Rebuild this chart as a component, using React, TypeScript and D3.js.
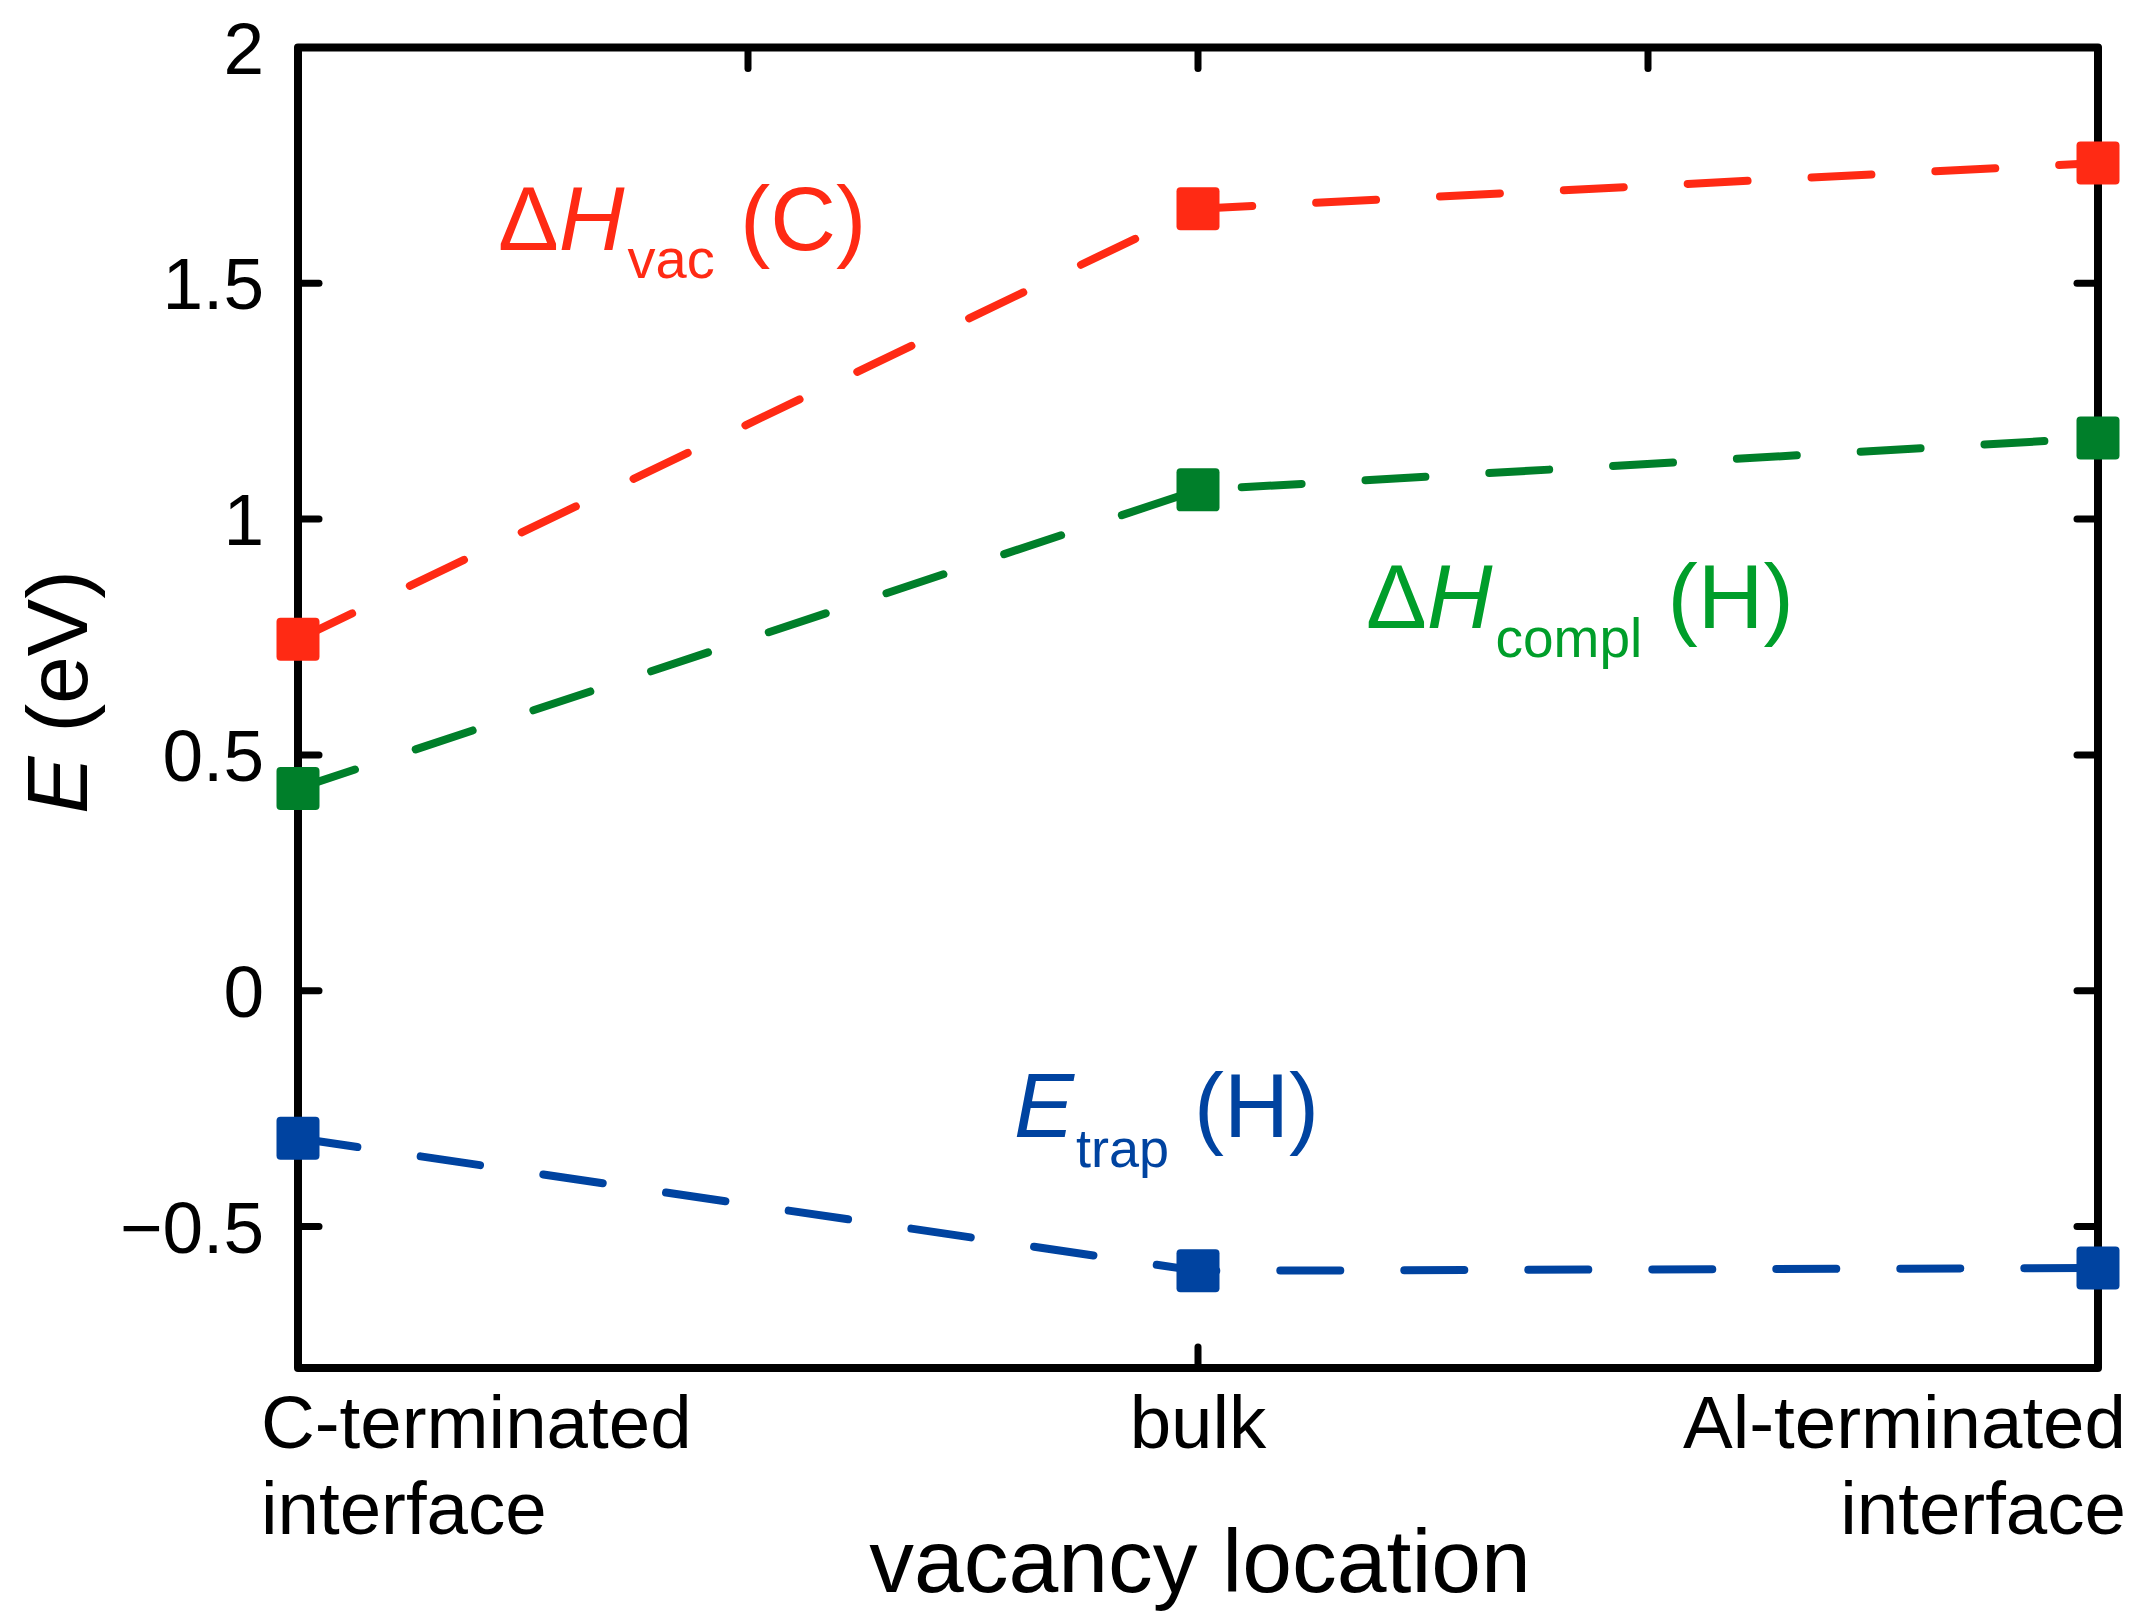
import React from "react";
import * as d3 from "d3";

const categories = ["C-terminated\ninterface", "bulk", "Al-terminated\ninterface"];
const catPos = [0, 1, 2];
const vacC = [0.745, 1.658, 1.755];
const complH = [0.429, 1.062, 1.172];
const trapH = [-0.313, -0.594, -0.588];
const yTicks = [-0.5, 0, 0.5, 1, 1.5, 2];
const yTickLabels = ["\u22120.5", "0", "0.5", "1", "1.5", "2"];
const topTicks = [0.5, 1, 1.5];
const bottomTicks = [1];

const W = 2140, H = 1623;
const L = 298, R = 2098, T = 47.5, B = 1368;
const RED = "#FF2A14", GREEN = "#007F2A", GREEN_T = "#009E2A", BLUE = "#0043A0";
const FONT = "'Liberation Sans', Arial, Helvetica, sans-serif";

export default function App() {
  const x = d3.scaleLinear().domain([0, 2]).range([L, R]);
  const y = d3.scaleLinear().domain([-0.8, 2]).range([B, T]);
  const line = d3.line<number>().x((_, i) => x(catPos[i])).y((d) => y(d));
  const series = [
    { vals: vacC, color: RED },
    { vals: complH, color: GREEN },
    { vals: trapH, color: BLUE },
  ];
  const ms = 43;
  const tl = 21;
  return (
    <svg width={W} height={H} style={{ position: "absolute", left: 0, top: 0, background: "#fff" }} fontFamily={FONT}>
      <rect x={0} y={0} width={W} height={H} fill="#fff" />
      <rect x={L} y={T} width={R - L} height={B - T} fill="none" stroke="#000" strokeWidth={8} strokeLinejoin="round" />
      {yTicks.map((t) => (
        <g key={"y" + t}>
          <line x1={L} x2={L + tl} y1={y(t)} y2={y(t)} stroke="#000" strokeWidth={7} strokeLinecap="round" />
          <line x1={R} x2={R - tl} y1={y(t)} y2={y(t)} stroke="#000" strokeWidth={7} strokeLinecap="round" />
        </g>
      ))}
      {topTicks.map((t) => (
        <line key={"t" + t} x1={x(t)} x2={x(t)} y1={T} y2={T + tl} stroke="#000" strokeWidth={7} strokeLinecap="round" />
      ))}
      {bottomTicks.map((t) => (
        <line key={"b" + t} x1={x(t)} x2={x(t)} y1={B} y2={B - tl} stroke="#000" strokeWidth={7} strokeLinecap="round" />
      ))}
      {yTicks.map((t, i) => (
        <text key={"yl" + t} x={L - 34} y={y(t) + 26} textAnchor="end" fontSize={73} fill="#000">
          {yTickLabels[i]}
        </text>
      ))}
      {categories.map((c, i) => {
        const lines = c.split("\n");
        const anchor = i === 0 ? "start" : i === 2 ? "end" : "middle";
        const xx = i === 0 ? 261 : i === 2 ? 2126 : x(catPos[i]);
        return (
          <text key={"c" + i} x={xx} y={1448} textAnchor={anchor} fontSize={74.5} fill="#000">
            {lines.map((ln, j) => (
              <tspan key={j} x={xx} dy={j === 0 ? 0 : 86}>
                {ln}
              </tspan>
            ))}
          </text>
        );
      })}
      <text x={(L + R) / 2 + 2} y={1592} textAnchor="middle" fontSize={89.5} fill="#000">
        vacancy location
      </text>
      <text transform={`translate(87, 692) rotate(-90)`} textAnchor="middle" fontSize={86} fill="#000">
        <tspan fontStyle="italic">E</tspan>
        <tspan> (eV)</tspan>
      </text>
      {series.map((s, k) => (
        <path key={"l" + k} d={line(s.vals) || ""} fill="none" stroke={s.color} strokeWidth={8}
          strokeDasharray="60 64" strokeLinecap="round" strokeLinejoin="round" />
      ))}
      {series.map((s, k) =>
        s.vals.map((v, i) => (
          <rect key={"m" + k + "-" + i} x={x(catPos[i]) - ms / 2} y={y(v) - ms / 2} width={ms} height={ms} rx={4} fill={s.color} />
        ))
      )}
      <text x={498} y={250} fontSize={91} fill={RED}>
        <tspan>Δ</tspan>
        <tspan fontStyle="italic">H</tspan>
        <tspan fontSize={56} dx={3} dy={28}>vac</tspan>
        <tspan dy={-28}> (C)</tspan>
      </text>
      <text x={1366} y={628} fontSize={91} fill={GREEN_T}>
        <tspan>Δ</tspan>
        <tspan fontStyle="italic">H</tspan>
        <tspan fontSize={55} dx={3} dy={29}>compl</tspan>
        <tspan dy={-29}> (H)</tspan>
      </text>
      <text x={1014} y={1137} fontSize={90} fill={BLUE}>
        <tspan fontStyle="italic">E</tspan>
        <tspan fontSize={54} dx={2} dy={30}>trap</tspan>
        <tspan dy={-30}> (H)</tspan>
      </text>
    </svg>
  );
}
